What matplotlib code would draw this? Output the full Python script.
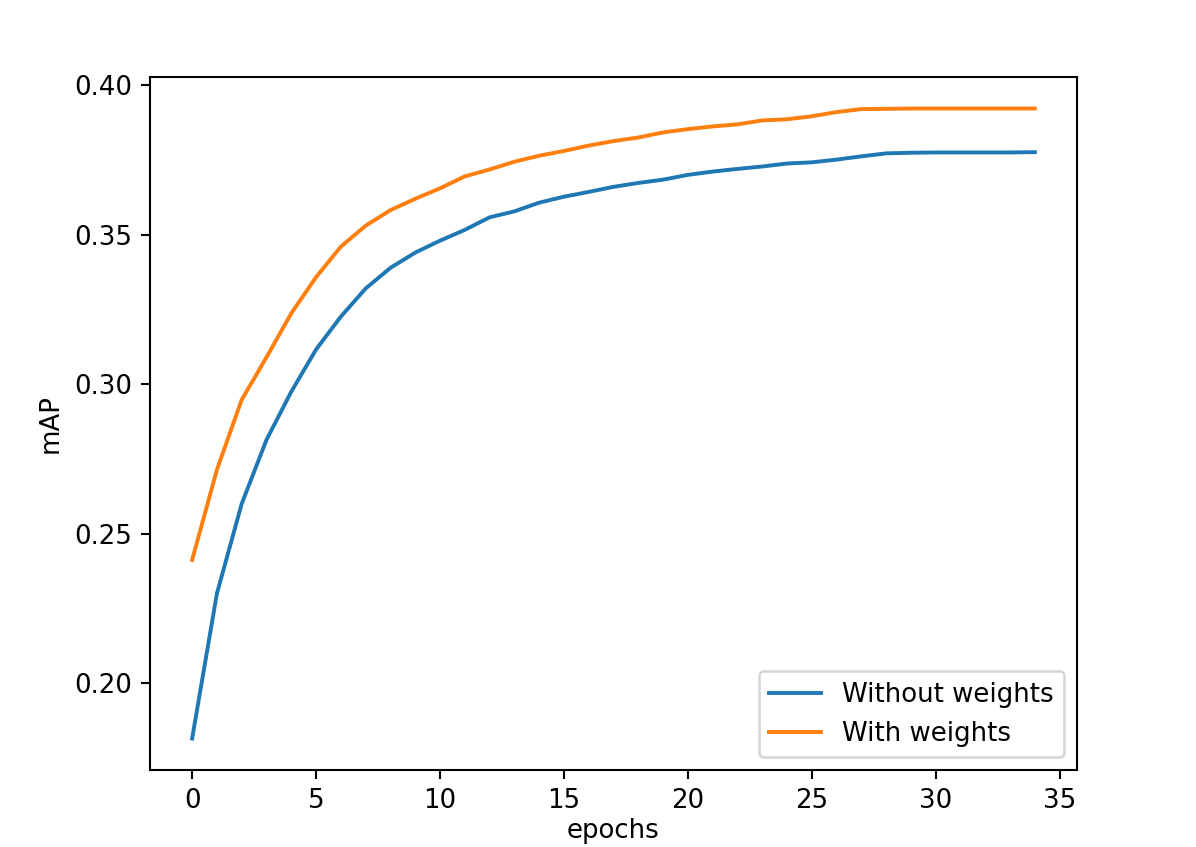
import matplotlib
matplotlib.use("Agg")
import matplotlib.pyplot as plt

epochs = list(range(35))
without_weights = [0.1815, 0.2300, 0.2600, 0.2814, 0.2975, 0.3116, 0.3226, 0.3320,
                   0.3389, 0.3440, 0.3480, 0.3516, 0.3558, 0.3578, 0.3607, 0.3627,
                   0.3643, 0.3660, 0.3673, 0.3684, 0.3700, 0.3711, 0.3720, 0.3728,
                   0.3738, 0.3742, 0.3751, 0.3762, 0.3772, 0.3774, 0.3775, 0.3775,
                   0.3775, 0.3775, 0.3776]
with_weights = [0.2412, 0.2714, 0.2948, 0.3090, 0.3237, 0.3358, 0.3460, 0.3530,
                0.3582, 0.3620, 0.3655, 0.3695, 0.3718, 0.3744, 0.3764, 0.3780,
                0.3798, 0.3813, 0.3825, 0.3842, 0.3853, 0.3862, 0.3869, 0.3882,
                0.3886, 0.3896, 0.3910, 0.3920, 0.3921, 0.3922, 0.3922, 0.3922,
                0.3922, 0.3922, 0.3922]

dpi = 1196 / 6.4
fig = plt.figure(figsize=(6.4, 847 / dpi), dpi=dpi)
ax = fig.add_axes([150 / 1196, 77 / 847, 927 / 1196, 693 / 847])

ax.plot(epochs, without_weights, label="Without weights")
ax.plot(epochs, with_weights, label="With weights")
ax.set_xlabel("epochs", labelpad=1.5)  # nudged up so it stays inside the frame
ax.set_ylabel("mAP")
ax.legend(loc="lower right")

fig.savefig("out.png", dpi=dpi)
